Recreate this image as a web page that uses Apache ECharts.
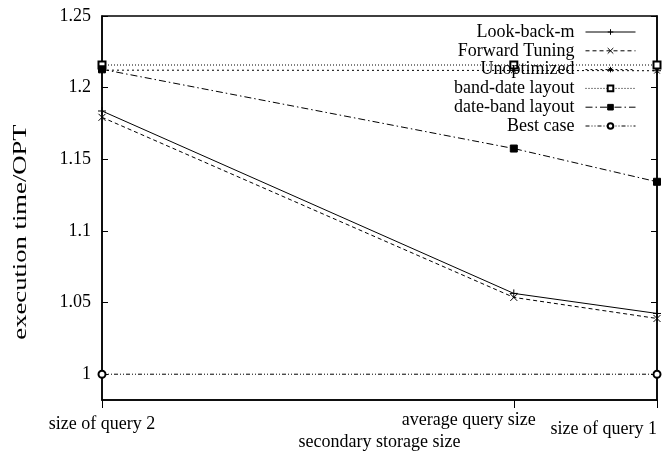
<!DOCTYPE html>
<html><head><meta charset="utf-8">
<script src="https://cdn.jsdelivr.net/npm/echarts@6/dist/echarts.min.js"></script>
<style>html,body{margin:0;padding:0;background:#fff}#c{width:668px;height:454px}</style>
</head><body><div id="c"></div>
<script>
// ---- data ----
const categories = ['size of query 2', 'average query size', 'size of query 1'];
const xPositions = [0, 0.742, 1];
const yTicks = [1, 1.05, 1.1, 1.15, 1.2, 1.25];
const seriesNames = ['Look-back-m', 'Forward Tuning', 'Unoptimized', 'band-date layout', 'date-band layout', 'Best case'];
const lookBack = [1.1837, 1.0564, 1.0424];
const forwardTuning = [1.1793, 1.0536, 1.0389];
const unoptimized = [1.2122, 1.2120, 1.2118];
const bandDate = [1.2158, 1.2158, 1.2158];
const dateBand = [1.2128, 1.1575, 1.1343];
const bestCase = [1.0, null, 1.0];
const yAxisTitle = 'execution time/OPT';
const xAxisTitle = 'secondary storage size';

const FONT = 'Liberation Serif';
const pairs = arr => arr.map((v, i) => [xPositions[i], v]);
const labelKeys = ['q2', 'avg', 'q1'];

const styles = [
  { symbol: 'path://M0,5L10,5M5,0L5,10', dash: 'solid', size: 8 },
  { symbol: 'path://M0,0L10,10M10,0L0,10', dash: [4, 3], size: 7 },
  { symbol: 'path://M5,0L5,10M0,5L10,5M1.5,1.5L8.5,8.5M8.5,1.5L1.5,8.5', dash: [2, 3], size: 8 },
  { symbol: 'emptyRect', dash: [1, 2], size: 7 },
  { symbol: 'rect', dash: [7, 3, 1.5, 3], size: 7 },
  { symbol: 'emptyCircle', dash: [4, 2, 1, 2, 1, 2], size: 7 }
];
const seriesData = [lookBack, forwardTuning, unoptimized, bandDate, dateBand, bestCase];

const series = seriesData.map((d, i) => ({
  name: seriesNames[i],
  type: 'line',
  data: pairs(d),
  connectNulls: true,
  symbol: styles[i].symbol,
  symbolSize: styles[i].size,
  showSymbol: true,
  animation: false,
  lineStyle: { color: '#000', width: 1, type: styles[i].dash },
  itemStyle: { color: '#000', borderColor: '#000', borderWidth: 1 },
  emphasis: { disabled: true }
}));

const richBase = { fontSize: 18, fontFamily: FONT, color: '#000' };
const chart = echarts.init(document.getElementById('c'), null, { renderer: 'canvas' });
chart.setOption({
  animation: false,
  textStyle: { fontFamily: FONT, color: '#000' },
  grid: { left: 102, right: 11, top: 16, bottom: 54, containLabel: false, outerBoundsMode: 'none', show: true, borderColor: '#000', borderWidth: 1.5, backgroundColor: 'transparent' },
  legend: {
    data: seriesNames,
    orient: 'vertical',
    align: 'right',
    right: 32,
    top: 23,
    padding: 0,
    itemGap: 0.8,
    itemWidth: 50,
    itemHeight: 7,
    selectedMode: false,
    lineStyle: { width: 1 },
    itemStyle: { borderWidth: 1 },
    textStyle: { fontSize: 18, fontFamily: FONT, color: '#000', padding: [0, 6, 0, 0] }
  },
  graphic: [{
    type: 'text',
    x: 21, y: 232,
    rotation: Math.PI / 2,
    scaleX: 1.48,
    style: { text: yAxisTitle, font: '18px "Liberation Serif"', fill: '#000', align: 'center', verticalAlign: 'middle' }
  }],
  xAxis: {
    type: 'value', min: 0, max: 1,
    name: xAxisTitle, nameLocation: 'middle', nameGap: 33, nameMoveOverlap: false,
    nameTextStyle: { fontSize: 18, fontFamily: FONT, color: '#000' },
    axisLine: { show: true, lineStyle: { color: '#000', width: 1.5 } },
    axisTick: { show: true, inside: false, length: 8, customValues: xPositions, lineStyle: { color: '#000', width: 1 } },
    axisLabel: {
      customValues: xPositions, margin: 11, showMinLabel: true, showMaxLabel: true,
      alignMaxLabel: 'right',
      formatter: v => {
        const i = xPositions.findIndex(p => Math.abs(p - v) < 1e-6);
        return i < 0 ? '' : '{' + labelKeys[i] + '|' + categories[i] + '}';
      },
      rich: {
        q2: Object.assign({ padding: [4, 0, 0, 0] }, richBase),
        avg: Object.assign({ padding: [0, 90, 0, 0] }, richBase),
        q1: Object.assign({ padding: [9, 0, 0, 0] }, richBase)
      }
    },
    splitLine: { show: false }
  },
  yAxis: [{
    type: 'value', min: 0.982, max: 1.25,
    axisLine: { show: true, lineStyle: { color: '#000', width: 1.5 } },
    axisTick: { show: true, inside: true, length: 6, customValues: yTicks, lineStyle: { color: '#000', width: 1 } },
    axisLabel: { customValues: yTicks, margin: 11, fontSize: 18, fontFamily: FONT, color: '#000', formatter: v => String(+(+v).toFixed(2)) },
    splitLine: { show: false }
  }, {
    type: 'value', min: 0.982, max: 1.25, position: 'right',
    axisLine: { show: true, lineStyle: { color: '#000', width: 1.5 } },
    axisTick: { show: true, inside: true, length: 6, customValues: yTicks, lineStyle: { color: '#000', width: 1 } },
    axisLabel: { show: false },
    splitLine: { show: false }
  }],
  series: series
});
</script></body></html>
